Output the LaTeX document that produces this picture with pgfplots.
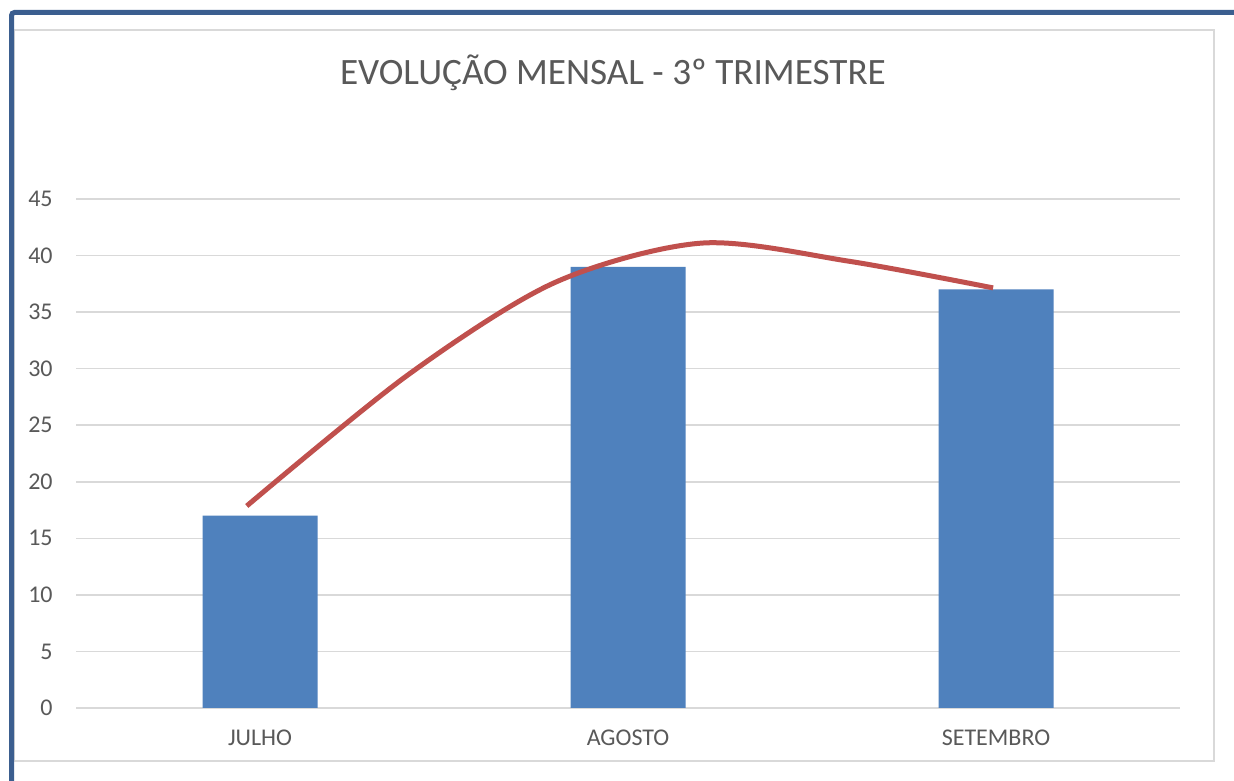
\documentclass[border=0pt]{standalone}
\usepackage{fontspec}
\setmainfont{Carlito}
\usepackage{pgfplots}
\pgfplotsset{compat=1.18}
\definecolor{barblue}{HTML}{4F81BD}
\definecolor{linered}{HTML}{C0504D}
\definecolor{gridgray}{HTML}{D9D9D9}
\definecolor{txtgray}{HTML}{595959}
\definecolor{frameblue}{HTML}{3B5E8F}
\begin{document}
\begin{tikzpicture}
\path[use as bounding box, fill=white] (0pt,0pt) rectangle (617pt,390pt);
\draw[gridgray, line width=0.75pt] (7pt,9.5pt) rectangle (607pt,375pt);
\draw[frameblue, line width=2.5pt, rounded corners=1.5pt] (5.75pt,-2pt) -- (5.75pt,383.75pt) -- (620pt,383.75pt);
\node[anchor=base, text=txtgray, font=\fontsize{18.6}{22}\selectfont, inner sep=0pt] at (306.5pt,347.5pt) {EVOLUÇÃO MENSAL - 3º TRIMESTRE};
\begin{axis}[
  at={(38pt,36pt)}, anchor=south west,
  scale only axis, width=552pt, height=254.5pt,
  xmin=-0.5, xmax=2.5, ymin=0, ymax=45,
  xtick={0,1,2}, xticklabels={JULHO,AGOSTO,SETEMBRO},
  ytick={0,5,...,45},
  ymajorgrids, grid style={gridgray, line width=0.75pt},
  axis line style={draw=none}, major tick length=0pt, tick style={draw=none},
  /pgf/number format/assume math mode=true,
  ticklabel style={text=txtgray, font=\fontsize{12}{14}\selectfont},
  yticklabel style={anchor=east, inner sep=0pt, xshift=-11.5pt},
  xticklabel style={anchor=base, inner sep=0pt, yshift=-19pt},
  clip=false,
]
\addplot[ybar, bar width=57.5pt, fill=barblue, draw=none] coordinates {(0,17) (1,39) (2,37)};
\addplot[linered, line width=2.5pt, smooth] coordinates {
(-0.036,17.86) (0.4,29.4) (0.8,37.6) (1.2,41.1) (1.6,39.5) (1.992,37.14)};
\end{axis}
\end{tikzpicture}
\end{document}
